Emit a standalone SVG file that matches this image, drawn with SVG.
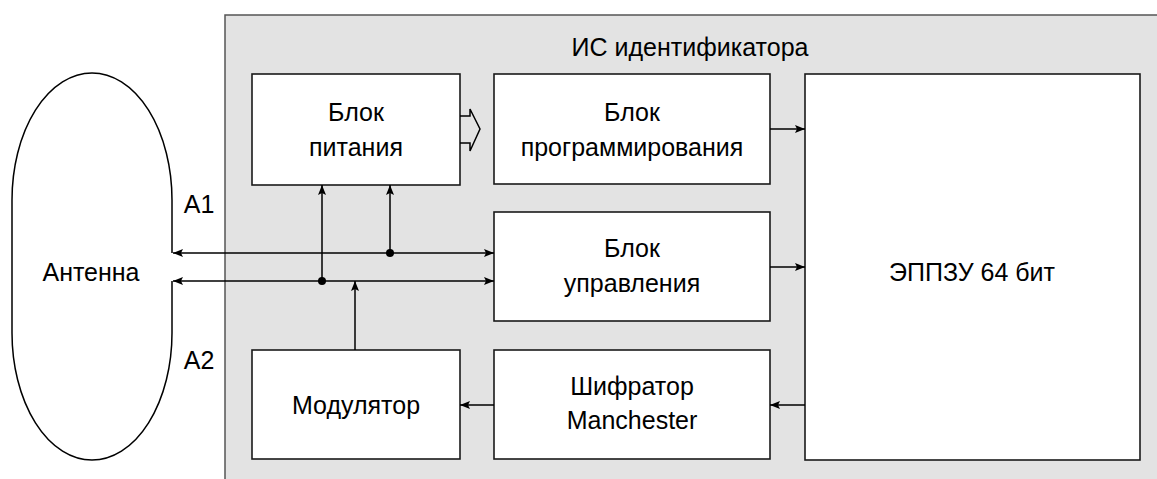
<svg xmlns="http://www.w3.org/2000/svg" width="1157" height="479" viewBox="0 0 1157 479">
<style>
.box{fill:#fff;stroke:#1a1a1a;stroke-width:1.6}
.t{font-family:"Liberation Sans",Arial,sans-serif;font-size:25px;fill:#000;text-anchor:middle}
.ln{stroke:#000;stroke-width:1.5;fill:none}
</style>
<defs>
<marker id="ah" viewBox="0 0 10 8" refX="10" refY="4" markerWidth="10" markerHeight="8" markerUnits="userSpaceOnUse" orient="auto-start-reverse">
<path d="M0,0 L10,4 L0,8 L2,4 Z" fill="#000"/>
</marker>
</defs>
<rect width="1157" height="479" fill="#fff"/>
<g id="ic">
<rect x="225" y="15" width="940" height="480" fill="#e3e3e3" stroke="#555" stroke-width="1.5"/>
<text class="t" x="690" y="56">ИС идентификатора</text>
</g>
<g id="antenna">
<path class="ln" stroke-width="2" d="M172,253 L172,200 A80,127 0 0 0 12,200 L12,333 A80,127 0 0 0 172,333 L172,281"/>
<text class="t" x="91" y="281">Антенна</text>
<text class="t" x="199" y="213">A1</text>
<text class="t" x="199" y="369">A2</text>
</g>
<g id="power">
<rect class="box" x="252" y="74" width="208" height="111"/>
<text class="t" x="356" y="121">Блок</text>
<text class="t" x="356" y="156">питания</text>
</g>
<g id="prog">
<rect class="box" x="494" y="74" width="276" height="110"/>
<text class="t" x="632" y="121">Блок</text>
<text class="t" x="632" y="156">программирования</text>
</g>
<g id="control">
<rect class="box" x="494" y="212" width="276" height="109"/>
<text class="t" x="632" y="257">Блок</text>
<text class="t" x="632" y="292">управления</text>
</g>
<g id="eeprom">
<rect class="box" x="805" y="74" width="335" height="386"/>
<text class="t" x="972" y="281">ЭППЗУ 64 бит</text>
</g>
<g id="modulator">
<rect class="box" x="252" y="350" width="208" height="109"/>
<text class="t" x="356" y="414">Модулятор</text>
</g>
<g id="encoder">
<rect class="box" x="494" y="350" width="276" height="109"/>
<text class="t" x="632" y="395">Шифратор</text>
<text class="t" x="632" y="429">Manchester</text>
</g>
<g id="connectors">
<path class="ln" d="M460,116 L470,116 L470,109 L480,129 L470,151 L470,143 L460,143"/>
<line class="ln" x1="173" y1="253" x2="494" y2="253" marker-start="url(#ah)" marker-end="url(#ah)"/>
<line class="ln" x1="173" y1="281" x2="494" y2="281" marker-start="url(#ah)" marker-end="url(#ah)"/>
<line class="ln" x1="390" y1="253" x2="390" y2="185" marker-end="url(#ah)"/>
<line class="ln" x1="322" y1="281" x2="322" y2="185" marker-end="url(#ah)"/>
<line class="ln" x1="355" y1="350" x2="355" y2="281" marker-end="url(#ah)"/>
<circle cx="390" cy="253" r="4" fill="#000"/>
<circle cx="322" cy="281" r="4" fill="#000"/>
<line class="ln" x1="770" y1="129" x2="805" y2="129" marker-end="url(#ah)"/>
<line class="ln" x1="770" y1="267" x2="805" y2="267" marker-end="url(#ah)"/>
<line class="ln" x1="805" y1="405" x2="770" y2="405" marker-end="url(#ah)"/>
<line class="ln" x1="494" y1="405" x2="460" y2="405" marker-end="url(#ah)"/>
</g>
</svg>
